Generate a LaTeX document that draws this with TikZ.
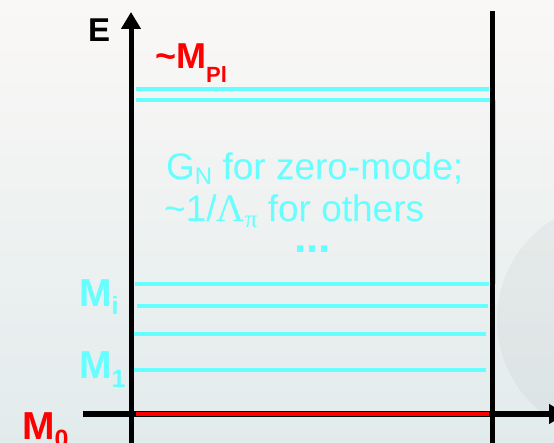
\documentclass[tikz,border=0pt]{standalone}
\usepackage{fontspec}
\setmainfont{Liberation Sans}
\newfontfamily\seriffont{Liberation Serif}
\usetikzlibrary{arrows.meta}
\definecolor{lvl}{RGB}{102,255,255}
\definecolor{redm}{RGB}{255,0,0}
\definecolor{bgtop}{RGB}{250,248,246}
\definecolor{bgbot}{RGB}{226,235,236}
\begin{document}
\begin{tikzpicture}[x=1pt,y=-1pt,
  axis/.style={line width=5pt, black},
  level/.style={line width=3.5pt, lvl},
  lab/.style={inner sep=0pt, anchor=base west},
  cyantext/.style={lab, text=lvl, font=\fontsize{37}{40}\selectfont},
  masslab/.style={lab, font=\fontsize{39}{40}\selectfont\bfseries},
  headtip/.style={-{Triangle[length=17pt,width=19pt]}}
]
\useasboundingbox (0,0) rectangle (554,443);
\shade[top color=bgtop, bottom color=bgbot] (0,0) rectangle (554,443);
\fill[gray, opacity=0.07] (615,320) circle (118);

% energy levels
\draw[level] (136,89) -- (489,89);
\draw[level] (136,100) -- (495,100);
\draw[lvl, line width=1pt] (495,100) -- (495,284);
\draw[level] (135,284) -- (489,284);
\draw[level] (137,306) -- (488,306);
\draw[level] (133,334) -- (486,334);
\draw[level] (133,370) -- (486,370);

% axes
\coordinate (hl) at (83,414);
\coordinate (hr) at (566,414);
\coordinate (vb) at (131,443);
\coordinate (vt) at (131,12);
\coordinate (rb) at (492,443);
\coordinate (rt) at (492,11);
\draw[axis, line width=6pt, headtip] (hl) -- (hr);
\draw[redm, line width=4pt] (136,414) -- (489,414);
\draw[axis, headtip] (vb) -- (vt);
\draw[axis] (rb) -- (rt);

% labels
\node[lab, font=\fontsize{33}{34}\selectfont\bfseries] (E) at (88,42) {E};
\node[lab, text=redm, font=\fontsize{36}{38}\selectfont\bfseries] (mpl) at (155,69)
  {\textasciitilde M\raisebox{-14pt}{\fontsize{22}{22}\selectfont Pl}};
\node[cyantext] (gn) at (166,180)
  {G\raisebox{-5pt}{\fontsize{24}{24}\selectfont N} for zero-mode;};
\node[cyantext] (lam) at (164,222)
  {\textasciitilde 1/{\seriffont\fontsize{39}{40}\selectfont Λ}\raisebox{-6pt}{\fontsize{25}{25}\selectfont\seriffont π} for others};
\node[lab, text=lvl, font=\fontsize{44}{44}\selectfont\bfseries] (dots) at (294,253) {...};
\node[masslab, text=lvl] (mi) at (79,307) {M\raisebox{-8pt}{\fontsize{25}{25}\selectfont i}};
\node[masslab, text=lvl] (m1) at (79,378) {M\raisebox{-9pt}{\fontsize{25}{25}\selectfont 1}};
\node[masslab, text=redm] (m0) at (22,439) {M\raisebox{-8pt}{\fontsize{25}{25}\selectfont 0}};
\end{tikzpicture}
\end{document}
